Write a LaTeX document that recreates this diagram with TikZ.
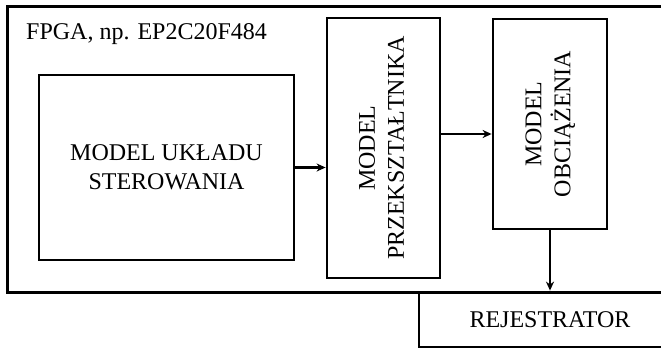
\documentclass[tikz,border=0pt]{standalone}
\usepackage{fontspec}
\setmainfont{Liberation Serif}
\usetikzlibrary{arrows.meta}
\begin{document}
\begin{tikzpicture}[x=1pt,y=-1pt,
  box/.style={draw,line width=2.8pt,inner sep=0pt,align=center,font=\fontsize{24}{29}\selectfont},
  arr/.style={line width=2.8pt,-{Stealth[length=9pt,width=8pt]}}]
\useasboundingbox (0,0) rectangle (661,348);
\clip (0,0) rectangle (661,348);
% outer FPGA box (extends past the right edge)
\node[box,line width=3pt,minimum width=680pt,minimum height=286pt] (fpga) at (347,149) {};
\node[anchor=base west,inner sep=0pt,font=\fontsize{24}{29}\selectfont] (fpgalabel) at (26,39) {FPGA, np. EP2C20F484};
% blocks
\node[box,minimum width=255pt,minimum height=185pt] (ctrl) at (166.5,167.5) {MODEL UKŁADU\\STEROWANIA};
\node[box,minimum width=113pt,minimum height=260pt] (przek) at (383.5,148)
  {\rotatebox{90}{\begin{tabular}{@{}c@{}}MODEL\\PRZEKSZTAŁTNIKA\end{tabular}}};
\node[box,minimum width=114pt,minimum height=210pt] (obc) at (550,124)
  {\rotatebox{90}{\begin{tabular}{@{}c@{}}MODEL\\OBCIĄŻENIA\end{tabular}}};
\node[box,minimum width=262pt,minimum height=55pt] (rej) at (550,319.5) {REJESTRATOR};
% connectors
\draw[arr] (ctrl.east) -- (ctrl.east -| przek.west);
\draw[arr] ([yshift=14pt]przek.east) -- ([yshift=14pt]przek.east -| obc.west);
\draw[arr] (obc.south) -- (obc.south |- rej.north);
\end{tikzpicture}
\end{document}
